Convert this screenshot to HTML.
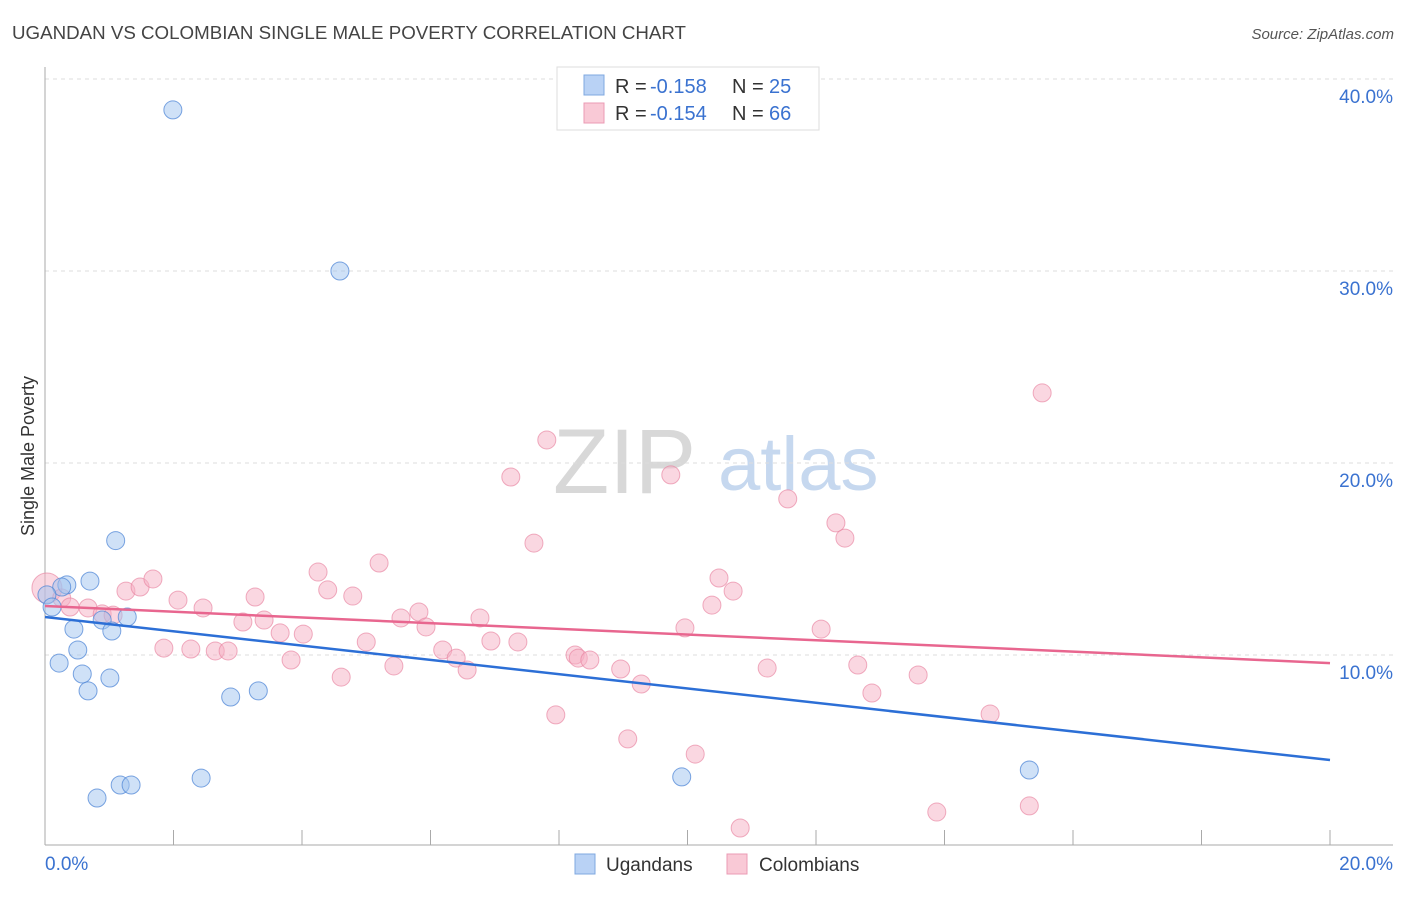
<!DOCTYPE html>
<html><head><meta charset="utf-8"><style>
body{margin:0;background:#fff;font-family:"Liberation Sans",sans-serif}
svg text{font-family:"Liberation Sans",sans-serif}
</style></head><body>
<svg id="chart" width="1406" height="892">
<text x="12" y="39" font-size="18" fill="#444" textLength="674" lengthAdjust="spacingAndGlyphs">UGANDAN VS COLOMBIAN SINGLE MALE POVERTY CORRELATION CHART</text>
<text x="1394" y="39" font-size="15" fill="#555" font-style="italic" text-anchor="end">Source: ZipAtlas.com</text>
<g><text x="553" y="493" font-size="92" font-family="Liberation Serif" fill="#d8d8d8">ZIP</text><text x="718" y="490" font-size="76" fill="#c6d8ef">atlas</text></g>
<g id="grid"></g><g id="marks"></g>
<text transform="translate(34,456) rotate(-90)" font-size="18" fill="#333" text-anchor="middle">Single Male Poverty</text>
<g>
<rect x="557" y="67" width="262" height="63" fill="#fff" stroke="#ddd"/>
<rect x="584" y="75" width="20" height="20" fill="#b9d2f5" stroke="#7fa8e0"/>
<rect x="584" y="103" width="20" height="20" fill="#f9c9d6" stroke="#eb9bb4"/>
<text y="93" font-size="20" fill="#333"><tspan x="615">R =</tspan><tspan x="650" fill="#3a72d0">-0.158</tspan><tspan x="732">N =</tspan><tspan x="769" fill="#3a72d0">25</tspan></text>
<text y="120" font-size="20" fill="#333"><tspan x="615">R =</tspan><tspan x="650" fill="#3a72d0">-0.154</tspan><tspan x="732">N =</tspan><tspan x="769" fill="#3a72d0">66</tspan></text>
</g>
<g>
<rect x="575" y="854" width="20" height="20" fill="#b9d2f5" stroke="#7fa8e0"/>
<text x="606" y="871" font-size="19" fill="#333">Ugandans</text>
<rect x="727" y="854" width="20" height="20" fill="#f9c9d6" stroke="#eb9bb4"/>
<text x="759" y="871" font-size="19" fill="#333">Colombians</text>
</g>
</svg>
<script>
const yTicks=[10,20,30,40];
const yTickLabels=["10.0%","20.0%","30.0%","40.0%"];
const xTickLabels=["0.0%","20.0%"];
const ugX=[1.99,4.59,1.10,0.70,0.34,0.26,0.03,0.11,0.89,1.28,1.04,0.45,0.51,0.22,0.58,1.01,0.67,2.89,3.32,2.43,1.17,1.34,0.81,9.91,15.32];
const ugY=[38.39,30.0,15.96,13.85,13.65,13.54,13.13,12.5,11.82,11.98,11.25,11.35,10.26,9.58,9.01,8.80,8.13,7.81,8.13,3.59,3.23,3.23,2.55,3.65,4.01];
const coX=[0.03,0.26,0.39,0.67,0.89,1.06,1.26,1.48,1.68,2.07,2.46,1.85,2.27,2.65,2.85,3.08,3.27,3.41,3.66,3.83,4.02,4.25,4.40,4.61,4.79,5.00,5.20,5.43,5.54,5.82,5.93,6.19,6.40,6.57,6.77,6.94,7.25,7.36,7.61,7.81,7.95,8.25,8.30,8.48,8.96,9.07,9.28,9.74,9.96,10.12,10.38,10.49,10.71,10.82,11.24,11.56,12.08,12.31,12.45,12.65,12.87,13.59,13.88,14.71,15.32,15.52];
const coY=[13.49,12.97,12.5,12.45,12.14,12.08,13.33,13.54,13.96,12.86,12.45,10.36,10.31,10.21,10.21,11.72,13.02,11.82,11.15,9.74,11.09,14.32,13.39,8.85,13.07,10.68,14.79,9.43,11.93,12.24,11.46,10.26,9.84,9.22,11.93,10.73,19.27,10.68,15.83,21.2,6.88,10.0,9.84,9.74,9.27,5.63,8.49,19.38,11.41,4.84,12.6,14.01,13.33,0.99,9.32,18.13,11.35,16.88,16.09,9.48,8.02,8.96,1.82,6.93,2.14,23.65];
const ugTrend=[11.98,4.53];
const coTrend=[12.55,9.58];
const NS="http://www.w3.org/2000/svg";
const sx=v=>45+v/20*1285, sy=v=>847-v*19.2;
function mk(p,t,a){const e=document.createElementNS(NS,t);for(const k in a)e.setAttribute(k,a[k]);p.appendChild(e);return e;}
const grid=document.getElementById('grid'), marks=document.getElementById('marks');
yTicks.forEach((t,i)=>{
 const l=mk(grid,'line',{x1:45,x2:1393,y1:sy(t),y2:sy(t),stroke:'#ddd','stroke-dasharray':'4,4'});
 
 
 const tx=mk(grid,'text',{x:1393,y:sy(t)+24,'font-size':19,fill:'#3a72d0','text-anchor':'end'});
 tx.textContent=yTickLabels[i];
 
 
});
let ax=mk(grid,'line',{x1:45,x2:45,y1:67,y2:845,stroke:'#aaa'});


ax=mk(grid,'line',{x1:45,x2:1393,y1:845,y2:845,stroke:'#aaa'});


for(let i=1;i<=10;i++){const x=sx(i*2);const t=mk(grid,'line',{x1:x,x2:x,y1:830,y2:845,stroke:'#aaa'});
 
 }
[[0,'start'],[20,'end']].forEach((d,i)=>{const t=mk(grid,'text',{x:i?1393:45,y:870,'font-size':19,fill:'#3a72d0','text-anchor':d[1]});
 t.textContent=xTickLabels[i];
 
 });
coX.forEach((x,i)=>{const c=mk(marks,'circle',{cx:sx(x),cy:sy(coY[i]),r:i==0?15:9,fill:'rgba(246,175,196,0.5)',stroke:'rgba(232,130,160,0.65)'});
 
 });
ugX.forEach((x,i)=>{const c=mk(marks,'circle',{cx:sx(x),cy:sy(ugY[i]),r:9,fill:'rgba(160,195,240,0.5)',stroke:'rgba(80,135,215,0.75)'});
 
 });
let tl=mk(marks,'line',{x1:sx(0),y1:sy(coTrend[0]),x2:sx(20),y2:sy(coTrend[1]),stroke:'#e8668f','stroke-width':2.5});


tl=mk(marks,'line',{x1:sx(0),y1:sy(ugTrend[0]),x2:sx(20),y2:sy(ugTrend[1]),stroke:'#2c6fd6','stroke-width':2.5});


</script>
</body></html>
